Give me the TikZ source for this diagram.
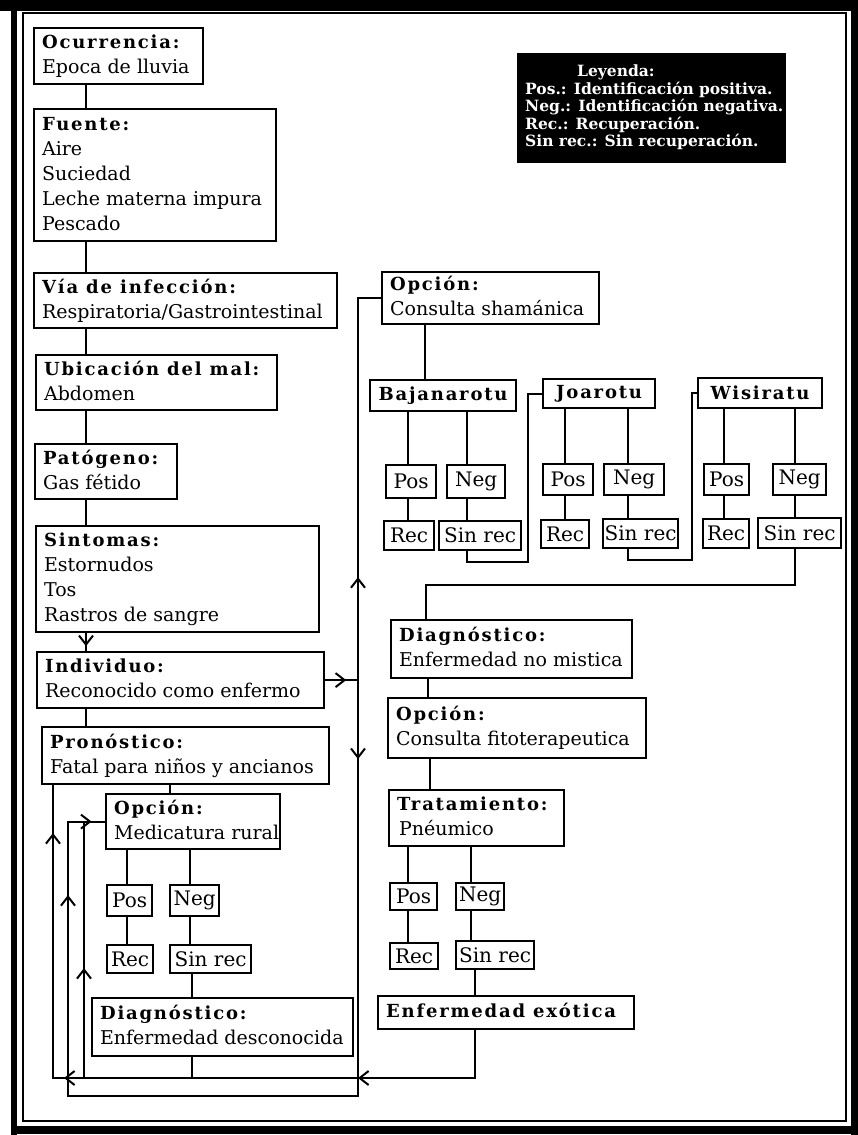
\documentclass[tikz,border=0pt]{standalone}
\usepackage{fontspec}
\setmainfont{DejaVu Serif}
\newfontfamily\hdfont{DejaVu Serif}[LetterSpace=10]
\usetikzlibrary{arrows.meta,decorations.markings}

\tikzset{
  x=1pt, y=-1pt,
  box/.style={draw, line width=2.2pt, inner xsep=8pt, inner ysep=1pt,
    font=\fontsize{19}{25}\selectfont},
  small/.style={draw, line width=2.2pt, inner sep=1pt, align=center,
    font=\fontsize{20}{22}\selectfont},
  head/.style={draw, line width=2.2pt, inner sep=1pt, align=center,
    font=\hdfont\bfseries\fontsize{18}{20}\selectfont},
  legend/.style={fill=black, text=white, inner xsep=8pt, inner ysep=0pt,
    font=\bfseries\fontsize{15.5}{17}\selectfont},
  link/.style={line width=2pt},
  >={Straight Barb[length=9pt,width=14pt]},
  tip/.style={postaction={decorate,decoration={markings,
    mark=at position #1 with {\arrow{>}}}}},
}
\newcommand\hd[1]{{\hdfont\bfseries\fontsize{18}{25}\selectfont #1}}
% text box from its corners: style, name, x1, y1, x2, y2, lines
\newcommand\bx[7][box]{%
  \pgfmathsetmacro\bxw{#5-#3}%
  \pgfmathsetmacro\bxh{#6-#4}%
  \pgfmathsetmacro\bxt{#5-#3-16}%
  \node[#1, anchor=north west, minimum width=\bxw pt, minimum height=\bxh pt]
    (#2) at (#3,#4) {\makebox[\bxt pt][l]{\begin{tabular}{@{}l@{}}#7\end{tabular}}};}
% centred label box from its corners
\newcommand\sbx[7][small]{%
  \pgfmathsetmacro\bxw{#5-#3}%
  \pgfmathsetmacro\bxh{#6-#4}%
  \node[#1, anchor=north west, minimum width=\bxw pt, minimum height=\bxh pt]
    (#2) at (#3,#4) {#7};}

\begin{document}
\begin{tikzpicture}
\useasboundingbox (0,0) rectangle (858,1135);
\fill[white] (0,0) rectangle (858,1135);

% page frame
\fill (0,0) rectangle (858,11);
\fill (11,0) rectangle (17,1135);
\fill (851,0) rectangle (858,1135);
\fill (17,1126) rectangle (858,1134);
\draw[line width=1.4pt] (23,13) rectangle (846,1121);

% legend
\bx[legend]{ley}{517}{53}{786}{163}{\hspace*{52pt}Leyenda:\\
  Pos.: Identificación positiva.\\
  Neg.: Identificación negativa.\\
  Rec.: Recuperación.\\
  Sin rec.: Sin recuperación.}

% left column
\bx{oc}{33}{27}{202}{83}{\hd{Ocurrencia:}\\Epoca de lluvia}
\bx{fu}{33}{108}{275}{240}{\hd{Fuente:}\\Aire\\Suciedad\\Leche materna impura\\Pescado}
\bx{via}{33}{272}{336}{327}{\hd{Vía de infección:}\\Respiratoria/Gastrointestinal}
\bx{ubi}{35}{354}{276}{409}{\hd{Ubicación del mal:}\\Abdomen}
\bx{pat}{34}{443}{176}{498}{\hd{Patógeno:}\\Gas fétido}
\bx{sin}{35}{525}{318}{631}{\hd{Sintomas:}\\Estornudos\\Tos\\Rastros de sangre}
\bx{ind}{36}{651}{323}{707}{\hd{Individuo:}\\Reconocido como enfermo}
\bx{pro}{41}{726}{328}{783}{\hd{Pronóstico:}\\Fatal para niños y ancianos}
\bx{opm}{105}{793}{279}{848}{\hd{Opción:}\\Medicatura rural}
\sbx{mpos}{106}{884}{151}{915}{Pos}
\sbx{mneg}{169}{884}{218}{915}{Neg}
\sbx{mrec}{106}{944}{152}{972}{Rec}
\sbx{msin}{169}{944}{250}{972}{Sin rec}
\bx{ddes}{91}{997}{352}{1055}{\hd{Diagnóstico:}\\Enfermedad desconocida}

% right column
\bx{ops}{381}{271}{598}{323}{\hd{Opción:}\\Consulta shamánica}
\sbx[head]{baj}{369}{379}{515}{410}{Bajanarotu}
\sbx[head]{joa}{542}{378}{654}{407}{Joarotu}
\sbx[head]{wis}{697}{377}{821}{407}{Wisiratu}
\sbx{bpos}{385}{464}{435}{497}{Pos}
\sbx{bneg}{446}{464}{504}{497}{Neg}
\sbx{brec}{383}{520}{433}{549}{Rec}
\sbx{bsin}{438}{520}{520}{549}{Sin rec}
\sbx{jpos}{542}{463}{592}{494}{Pos}
\sbx{jneg}{603}{463}{663}{494}{Neg}
\sbx{jrec}{540}{519}{588}{547}{Rec}
\sbx{jsin}{602}{518}{677}{547}{Sin rec}
\sbx{wpos}{703}{463}{748}{494}{Pos}
\sbx{wneg}{772}{463}{825}{494}{Neg}
\sbx{wrec}{702}{518}{748}{547}{Rec}
\sbx{wsin}{757}{517}{840}{547}{Sin rec}
\bx{dnm}{390}{619}{631}{677}{\hd{Diagnóstico:}\\Enfermedad no mistica}
\bx{opf}{387}{697}{645}{757}{\hd{Opción:}\\Consulta fitoterapeutica}
\bx{tra}{388}{789}{563}{845}{\hd{Tratamiento:}\\\hspace*{2pt}Pnéumico}
\sbx{tpos}{389}{882}{436}{909}{Pos}
\sbx{tneg}{455}{882}{503}{909}{Neg}
\sbx{trec}{389}{942}{437}{968}{Rec}
\sbx{tsin}{455}{940}{533}{968}{Sin rec}
\bx{exo}{377}{995}{633}{1028}{\hd{Enfermedad exótica}}

% connector columns and rows
\coordinate (xL) at (86,0);
\coordinate (xM) at (170,0);
\coordinate (xMp) at (127,0);
\coordinate (xMn) at (190,0);
\coordinate (xD) at (192,0);
\coordinate (xV) at (358,0);
\coordinate (xR1) at (53,0);
\coordinate (xR2) at (68,0);
\coordinate (xR3) at (84,0);
\coordinate (yB) at (0,1078);
\coordinate (yB2) at (0,1096);
\coordinate (xS) at (425,0);
\coordinate (xBp) at (408,0);
\coordinate (xBn) at (467,0);
\coordinate (bj) at (528,562);
\coordinate (xJp) at (565,0);
\coordinate (xJn) at (628,0);
\coordinate (jw) at (692,560);
\coordinate (xWp) at (724,0);
\coordinate (xWn) at (795,0);
\coordinate (wd) at (426,585);
\coordinate (xF1) at (428,0);
\coordinate (xF2) at (430,0);
\coordinate (xTp) at (408,0);
\coordinate (xTn) at (471,0);
\coordinate (xE) at (475,0);

\begin{scope}[link]
% left trunk
\draw (oc.south -| xL) -- (fu.north -| xL);
\draw (fu.south -| xL) -- (via.north -| xL);
\draw (via.south -| xL) -- (ubi.north -| xL);
\draw (ubi.south -| xL) -- (pat.north -| xL);
\draw (pat.south -| xL) -- (sin.north -| xL);
\draw[tip=13pt] (sin.south -| xL) -- (ind.north -| xL);
\draw (ind.south -| xL) -- (pro.north -| xL);
\draw (pro.south -| xM) -- (opm.north -| xM);
\draw (opm.south -| xMp) -- (mpos.north -| xMp);
\draw (opm.south -| xMn) -- (mneg.north -| xMn);
\draw (mpos.south -| xMp) -- (mrec.north -| xMp);
\draw (mneg.south -| xMn) -- (msin.north -| xMn);
\draw (msin.south -| xD) -- (ddes.north -| xD);
\draw (ddes.south -| xD) -- (xD |- yB);

% individual to the consultation trunk
\draw[tip=21pt] (ind.east) -- (ind.east -| xV);
\draw[tip=103pt] (ind.east -| xV) |- (ops.west);
\draw[tip=79pt] (ind.east -| xV) -- (xV |- yB);

% return paths along the bottom
\draw[->] (exo.south -| xE) |- (xV |- yB);
\draw[tip=294pt, tip=550pt] (xV |- yB) -- (xR1 |- yB) -- (pro.south -| xR1);
\draw[tip=509pt, tip=606pt] (xV |- yB) -- (xV |- yB2) -- (xR2 |- yB2)
   -- (xR2 |- opm.west) -- (opm.west);
\draw[tip=110pt] (xR3 |- yB) -- (xR3 |- opm.west);

% shamanic consultation
\draw (ops.south -| xS) -- (baj.north -| xS);
\draw (baj.south -| xBp) -- (bpos.north -| xBp);
\draw (baj.south -| xBn) -- (bneg.north -| xBn);
\draw (bpos.south -| xBp) -- (brec.north -| xBp);
\draw (bneg.south -| xBn) -- (bsin.north -| xBn);
\draw (bsin.south -| xBn) |- (bj) |- (joa.west);
\draw (joa.south -| xJp) -- (jpos.north -| xJp);
\draw (joa.south -| xJn) -- (jneg.north -| xJn);
\draw (jpos.south -| xJp) -- (jrec.north -| xJp);
\draw (jneg.south -| xJn) -- (jsin.north -| xJn);
\draw (jsin.south -| xJn) |- (jw) |- (wis.west);
\draw (wis.south -| xWp) -- (wpos.north -| xWp);
\draw (wis.south -| xWn) -- (wneg.north -| xWn);
\draw (wpos.south -| xWp) -- (wrec.north -| xWp);
\draw (wneg.south -| xWn) -- (wsin.north -| xWn);
\draw (wsin.south -| xWn) |- (wd) -- (dnm.north -| wd);

% herbal treatment
\draw (dnm.south -| xF1) -- (opf.north -| xF1);
\draw (opf.south -| xF2) -- (tra.north -| xF2);
\draw (tra.south -| xTp) -- (tpos.north -| xTp);
\draw (tra.south -| xTn) -- (tneg.north -| xTn);
\draw (tpos.south -| xTp) -- (trec.north -| xTp);
\draw (tneg.south -| xTn) -- (tsin.north -| xTn);
\draw (tsin.south -| xE) -- (exo.north -| xE);
\end{scope}
\end{tikzpicture}
\end{document}
